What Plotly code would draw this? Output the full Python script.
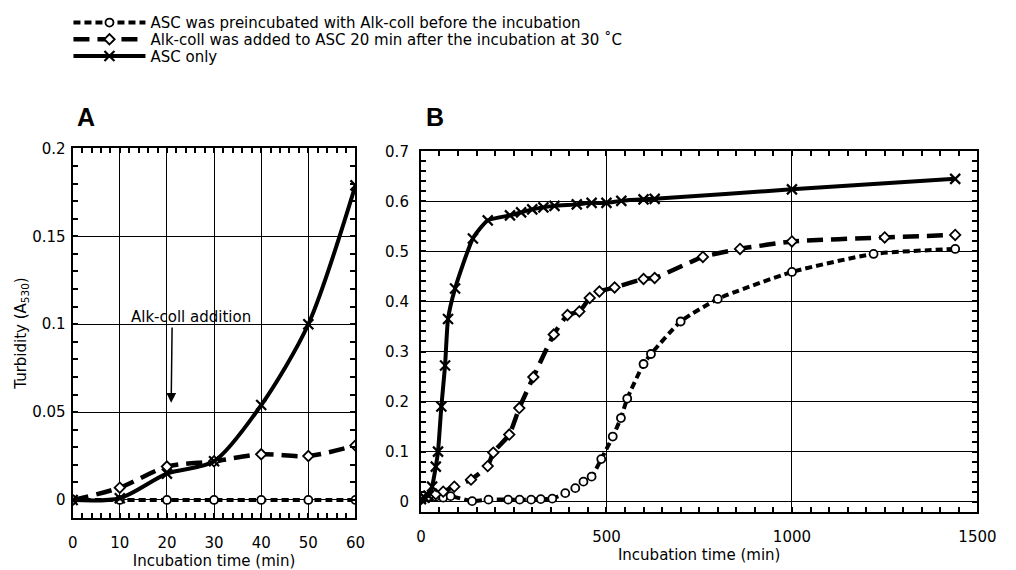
import plotly.graph_objects as go

# ---------------- Panel A data ----------------
tA = [0, 10, 20, 30, 40, 50, 60]
A_pre = [0.000, 0.000, 0.000, 0.000, 0.000, 0.000, 0.000]
A_add = [0.000, 0.007, 0.019, 0.022, 0.026, 0.025, 0.031]
A_only = [0.000, 0.001, 0.015, 0.022, 0.054, 0.100, 0.179]

# ---------------- Panel B data ----------------
tB_pre = [0, 20, 40, 60, 80, 138, 182, 235, 266, 297, 323, 354, 389, 416, 438,
          460, 486, 517, 539, 556, 600, 620, 700, 800, 1000, 1220, 1440]
B_pre = [0.005, 0.008, 0.010, 0.008, 0.011, 0.001, 0.004, 0.004, 0.004, 0.004, 0.005,
         0.006, 0.017, 0.027, 0.040, 0.050, 0.085, 0.130, 0.167, 0.206, 0.275, 0.295,
         0.360, 0.405, 0.459, 0.495, 0.505]

tB_add = [0, 20, 40, 60, 90, 135, 180, 195, 238, 265, 303, 358, 395, 427, 455,
          481, 522, 600, 630, 760, 860, 1000, 1250, 1440]
B_add = [0.005, 0.010, 0.015, 0.020, 0.030, 0.044, 0.071, 0.098, 0.134, 0.187, 0.249,
         0.334, 0.373, 0.380, 0.407, 0.420, 0.428, 0.445, 0.447, 0.489, 0.505, 0.520,
         0.528, 0.533]

tB_only = [0, 10, 20, 30, 40, 46, 55, 65, 73, 92, 140, 180, 240, 270, 300, 330, 360,
           420, 460, 500, 540, 600, 630, 1000, 1440]
B_only = [0.005, 0.008, 0.012, 0.030, 0.070, 0.100, 0.190, 0.272, 0.365, 0.426, 0.526,
          0.562, 0.572, 0.578, 0.584, 0.588, 0.591, 0.594, 0.597, 0.597, 0.601, 0.604,
          0.605, 0.624, 0.645]

names = ["ASC was preincubated with Alk-coll before the incubation",
         "Alk-coll was added to ASC 20 min after the incubation at 30 \u02daC",
         "ASC only"]

FONT = "DejaVu Sans, Verdana, sans-serif"
BOLD_FONT = "Liberation Sans, Arial, sans-serif"
BLACK = "#000000"

styles = [
    dict(line=dict(color=BLACK, width=4, dash="7px,4px"),
         marker=dict(symbol="circle", size=8, color="white", line=dict(color=BLACK, width=1.8))),
    dict(line=dict(color=BLACK, width=4.5, dash="16px,8px"),
         marker=dict(symbol="diamond", size=8, color="white", line=dict(color=BLACK, width=1.8))),
    dict(line=dict(color=BLACK, width=4),
         marker=dict(symbol="x-thin", size=10, color=BLACK, line=dict(color=BLACK, width=2.2))),
]
legend_ids = ["legend", "legend2", "legend3"]

fig = go.Figure()
for name, y, st, lg in zip(names, [A_pre, A_add, A_only], styles, legend_ids):
    fig.add_trace(go.Scatter(x=tA, y=y, name=name, mode="lines+markers",
                             line=dict(**st["line"], shape="spline", smoothing=0.8),
                             marker=st["marker"], xaxis="x", yaxis="y",
                             legend=lg, showlegend=True))
for name, x, y, st in zip(names, [tB_pre, tB_add, tB_only], [B_pre, B_add, B_only], styles):
    fig.add_trace(go.Scatter(x=x, y=y, name=name, mode="lines+markers",
                             line=dict(**st["line"], shape="spline", smoothing=0.5),
                             marker=st["marker"], xaxis="x2", yaxis="y2",
                             showlegend=False))

axis_common = dict(
    showgrid=True, gridcolor=BLACK, gridwidth=1,
    showline=True, linecolor=BLACK, linewidth=2, mirror="ticks",
    ticks="inside", ticklen=5, tickwidth=1.5, tickcolor=BLACK,
    zeroline=False, tickfont=dict(family=FONT, size=15, color=BLACK),
)
minor_common = dict(ticks="inside", ticklen=5, tickwidth=1.5, tickcolor=BLACK, showgrid=False)

legend_common = dict(x=65 / 1016, xanchor="left", yanchor="middle", itemwidth=72,
                     font=dict(family=FONT, size=15, color=BLACK),
                     bgcolor="rgba(0,0,0,0)", borderwidth=0)
legend_rows_y = [1 - 14 / 570, 1 - 31 / 570, 1 - 48 / 570]

fig.update_layout(
    width=1016, height=570,
    margin=dict(l=0, r=0, t=0, b=0),
    paper_bgcolor="white", plot_bgcolor="white",
    font=dict(family=FONT, color=BLACK, size=15),
    xaxis=dict(axis_common, domain=[0.0682, 0.3533], range=[0, 60], dtick=10,
               anchor="y", ticklabelstandoff=10, minor=dict(minor_common, dtick=2),
               title=dict(text="Incubation time (min)", font=dict(family=FONT, size=15), standoff=3)),
    yaxis=dict(axis_common, domain=[0.0935, 0.7514], range=[-0.01, 0.2], dtick=0.05,
               anchor="x", ticklabelstandoff=2, minor=dict(minor_common, dtick=0.01),
               title=dict(text="Turbidity (A<sub>530</sub>)", font=dict(family=FONT, size=15), standoff=2)),
    xaxis2=dict(axis_common, domain=[0.4193, 0.9803], range=[0, 1500], dtick=500,
                anchor="y2", ticklabelstandoff=10, minor=dict(minor_common, dtick=50),
                title=dict(text="Incubation time (min)", font=dict(family=FONT, size=15), standoff=4)),
    yaxis2=dict(axis_common, domain=[0.1040, 0.7463], range=[-0.02, 0.7], dtick=0.1,
                anchor="x2", ticklabelstandoff=7, minor=dict(minor_common, dtick=0.02)),
    legend=dict(legend_common, y=legend_rows_y[0]),
    legend2=dict(legend_common, y=legend_rows_y[1]),
    legend3=dict(legend_common, y=legend_rows_y[2]),
    showlegend=True,
    annotations=[
        dict(text="<b>A</b>", xref="paper", yref="paper", x=83 / 1016, y=1 - 110 / 570,
             xanchor="center", yanchor="middle", showarrow=False,
             font=dict(family=BOLD_FONT, size=25)),
        dict(text="<b>B</b>", xref="paper", yref="paper", x=440 / 1016, y=1 - 110 / 570,
             xanchor="center", yanchor="middle", showarrow=False,
             font=dict(family=BOLD_FONT, size=25)),
        dict(text="Alk-coll addition", xref="x", yref="y", x=25.2, y=0.1043,
             xanchor="center", yanchor="middle", showarrow=False,
             font=dict(family=FONT, size=15)),
        dict(text="", xref="x", yref="y", x=20.9, y=0.0553, axref="x", ayref="y",
             ax=21.1, ay=0.099, showarrow=True, arrowhead=2, arrowwidth=1.5,
             arrowsize=1.3, arrowcolor=BLACK),
    ],
)

fig.write_html("out.html")
